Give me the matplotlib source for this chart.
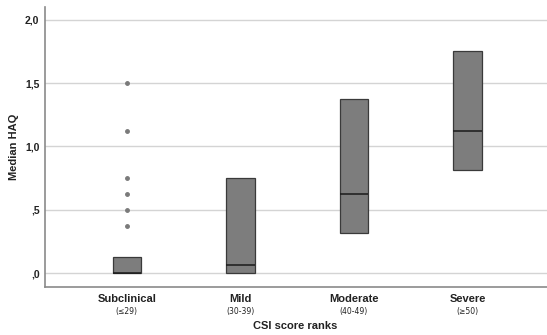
import matplotlib
matplotlib.use("Agg")
import matplotlib.pyplot as plt

categories = ["Subclinical", "Mild", "Moderate", "Severe"]
ranges = ["(\u226429)", "(30-39)", "(40-49)", "(\u226550)"]
q1 = [0.0, 0.0, 0.3125, 0.8125]
med = [0.0, 0.0625, 0.625, 1.125]
q3 = [0.125, 0.75, 1.375, 1.75]
outliers_sub = [1.5, 1.125, 0.75, 0.625, 0.5, 0.375]
yticks = [0.0, 0.5, 1.0, 1.5, 2.0]
yticklabels = [",0", ",5", "1,0", "1,5", "2,0"]

plt.rcParams['font.family'] = ['Liberation Sans', 'DejaVu Sans']

fig = plt.figure(figsize=(5.47, 3.35), dpi=100)
ax = fig.add_axes([0.0823, 0.1433, 0.9177, 0.8357])

stats = []
for i in range(len(categories)):
    stats.append(dict(med=med[i], q1=q1[i], q3=q3[i], whislo=q1[i], whishi=q3[i],
                      fliers=outliers_sub if i == 0 else [], label=categories[i]))

ax.bxp(stats, positions=range(len(categories)), widths=0.25, patch_artist=True,
       showcaps=False,
       boxprops=dict(facecolor="#7d7d7d", edgecolor="#3a3a3a", linewidth=0.9),
       medianprops=dict(color="#1a1a1a", linewidth=1.1),
       whiskerprops=dict(linewidth=0),
       flierprops=dict(marker="o", markersize=2.5, markerfacecolor="#7a7a7a",
                       markeredgecolor="#7a7a7a"), zorder=3)

ax.set_xlim(-0.72, 3.7)
ax.set_ylim(-0.11, 2.1)
ax.set_yticks(yticks)
ax.set_yticklabels(yticklabels, fontsize=7.5, fontweight="bold", color="#222222")
ax.yaxis.grid(True, color="#d4d4d4", linewidth=1.0, zorder=0)
ax.set_axisbelow(True)
ax.tick_params(axis="y", length=0, pad=4)
ax.tick_params(axis="x", length=0)
ax.set_xticks(range(len(categories)))
ax.set_xticklabels([])
for i, (c, r) in enumerate(zip(categories, ranges)):
    ax.text(i, -0.205, c, ha="center", va="center", fontsize=8, fontweight="bold",
            color="#222222", clip_on=False)
    ax.text(i, -0.305, r, ha="center", va="center", fontsize=5.5,
            family=["DejaVu Sans"], color="#222222", clip_on=False)
fig.text(0.54, 0.027, "CSI score ranks", ha="center", va="center", fontsize=8,
         fontweight="bold", color="#222222")
ax.set_ylabel("Median HAQ", fontsize=8, fontweight="bold", color="#222222")
ax.yaxis.set_label_coords(-0.052, 0.5)

for s in ["top", "right"]:
    ax.spines[s].set_visible(False)
for s in ["left", "bottom"]:
    ax.spines[s].set_color("#8a8a8a")
    ax.spines[s].set_linewidth(1.2)

fig.savefig("out.png", dpi=100, facecolor="white")
